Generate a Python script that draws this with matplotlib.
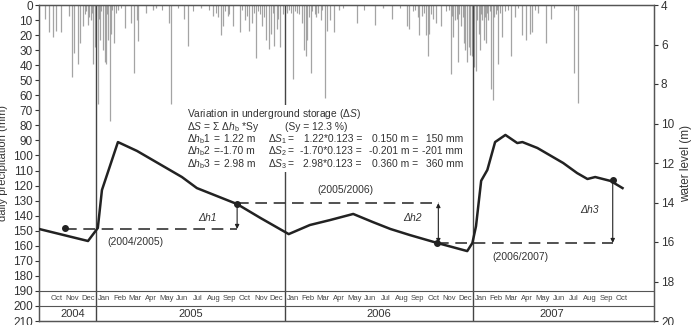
import matplotlib
matplotlib.use('Agg')
import matplotlib.pyplot as plt
import matplotlib.dates as mdates
import numpy as np
import pandas as pd
from matplotlib.patches import Rectangle

plt.rcParams['font.family'] = ['Liberation Sans', 'DejaVu Sans']
plt.rcParams['mathtext.fontset'] = 'custom'
plt.rcParams['mathtext.rm'] = 'Liberation Sans'
plt.rcParams['mathtext.it'] = 'Liberation Sans:italic'

# days are counted from 2004-09-01
origin = pd.Timestamp('2004-09-01')

# daily precipitation (mm)
rain_day = [22, 30, 38, 44, 53, 70, 75, 79, 86, 90, 96, 106, 111, 116, 119,
            125, 129, 135, 138, 141, 145, 148, 151, 156, 164, 177, 189, 195, 200, 203,
            218, 232, 238, 263, 266, 292, 300, 325, 348, 358, 364, 368, 377, 387, 400,
            410, 418, 423, 431, 444, 451, 457, 461, 467, 472, 478, 491, 504, 511, 520,
            525, 528, 531, 538, 548, 552, 557, 566, 570, 575, 582, 593, 628, 663, 677,
            695, 724, 729, 745, 748, 753, 761, 764, 767, 774, 780, 790, 809, 814, 818,
            824, 829, 834, 837, 840, 844, 847, 850, 855, 858, 863, 866, 870, 873, 878,
            882, 887, 890, 893, 901, 908, 926, 934, 948, 955, 962, 966, 979, 994, 1003,
            1048, 1056]
rain_mm = [9, 18, 21, 17, 18, 7, 48, 32, 39, 25, 14, 13, 10, 39, 28,
           66, 23, 30, 38, 39, 23, 77, 19, 25, 3, 15, 12, 45, 10, 24,
           5, 3, 2, 12, 66, 9, 27, 2, 7, 8, 20, 14, 7, 14, 18,
           10, 17, 12, 35, 14, 23, 29, 19, 27, 16, 28, 5, 49, 5, 12,
           30, 34, 23, 45, 8, 5, 10, 62, 17, 10, 18, 3, 12, 13, 2,
           9, 14, 16, 8, 20, 7, 20, 34, 19, 9, 12, 14, 46, 21, 10,
           38, 14, 25, 30, 38, 28, 33, 34, 41, 44, 19, 30, 10, 23, 25,
           10, 56, 63, 8, 39, 21, 34, 8, 20, 23, 19, 18, 5, 25, 9,
           45, 65]
# light rain days
drizzle_day = [100, 102, 108, 113, 122, 127, 132, 143, 153, 160, 170, 250, 280, 310,
               340, 355, 372, 380, 405, 415, 427, 436, 440, 448, 464, 475, 484, 488,
               495, 500, 508, 515, 534, 541, 545, 560, 600, 640, 710, 735, 740, 757,
               770, 800, 805, 811, 821, 826, 832, 852, 860, 868, 876, 880, 885, 896,
               898, 905, 915, 920, 940, 972, 1010, 1052]
drizzle_mm = [6, 4, 8, 5, 7, 9, 4, 6, 3, 5, 2, 3, 2, 4,
              3, 5, 4, 6, 3, 7, 5, 4, 6, 8, 5, 9, 6, 4,
              3, 5, 4, 6, 8, 4, 6, 3, 2, 3, 2, 4, 3, 5,
              6, 4, 3, 7, 9, 6, 8, 12, 10, 6, 8, 5, 4, 6,
              3, 5, 4, 3, 2, 3, 2, 3]

# water level below surface (m)
level_day = [11, 106, 125, 133, 164, 201, 288, 317, 395, 440, 495, 536, 575, 620,
             658, 692, 730, 783, 841, 851, 858, 868, 880, 895, 915, 938, 948, 977,
             1027, 1054, 1074, 1089, 1119, 1142]
level_m = [15.34, 15.95, 15.29, 13.37, 10.94, 11.39, 12.71, 13.27, 14.08, 14.78, 15.6,
           15.14, 14.89, 14.58, 14.99, 15.34, 15.65, 16.05, 16.46, 16.05, 15.2, 12.9,
           12.35, 10.94, 10.58, 10.99, 10.94, 11.24, 12.0, 12.51, 12.81, 12.71, 12.91,
           13.27]

# reference points and hydrological-year levels
dot_day = [61, 395, 783, 1123]
dot_m = [15.29, 14.08, 16.05, 12.86]
ref_start = [61, 395, 783]
ref_end = [395, 787, 1123]
ref_m = [15.34, 14.03, 16.05]
ref_names = ['(2004/2005)', '(2005/2006)', '(2006/2007)']
dh_names = ['Δh1', 'Δh2', 'Δh3']

x0 = mdates.date2num(origin)
W, H = 691, 325


def fig_xy(px, py):
    return px / W, 1 - py / H


fig = plt.figure(figsize=(W / 100, H / 100), dpi=100)
ax = fig.add_axes([39 / W, 4 / H, 615 / W, 316 / H])
ax2 = ax.twinx()

ax.set_xlim(mdates.date2num(pd.Timestamp('2004-09-12')),
            mdates.date2num(pd.Timestamp('2007-12-18')))
ax.set_ylim(210, 0)
ax.set_yticks(range(0, 211, 10))
ax.set_xticks([])
ax2.set_ylim(20, 4)
ax2.set_yticks(range(4, 21, 2))

# precipitation bars
ax.vlines(x0 + np.array(drizzle_day), 0, drizzle_mm, color='#8a8a8a', lw=0.8, alpha=0.8)
ax.vlines(x0 + np.array(rain_day), 0, rain_mm, color='#9a9a9a', lw=0.9, alpha=0.9)

# year separators and month/year band
years = [2005, 2006, 2007]
for y in years:
    ax.axvline(mdates.date2num(pd.Timestamp(f'{y}-01-01')), color='#444444', lw=1.0)
ax.axhline(190, color='#555555', lw=0.8)
ax.axhline(200, color='#555555', lw=0.8)

months = pd.date_range('2004-10-01', '2007-10-01', freq='MS')
for m in months:
    mid = mdates.date2num(m) + m.days_in_month / 2
    ax.text(mid, 195.3, m.strftime('%b'), ha='center', va='center',
            fontsize=5.5, color='#444444')

year_spans = [('2004', '2004-10-01', '2005-01-01'), ('2005', '2005-01-01', '2006-01-01'),
              ('2006', '2006-01-01', '2007-01-01'), ('2007', '2007-01-01', '2007-11-01')]
for name, a, b in year_spans:
    mid = (mdates.date2num(pd.Timestamp(a)) + mdates.date2num(pd.Timestamp(b))) / 2
    ax.text(mid, 205.3, name, ha='center', va='center', fontsize=8, color='#333333')

# water level
ax2.plot(x0 + np.array(level_day), level_m, color='#222222', lw=1.8, zorder=3)
for a, b, lv in zip(ref_start, ref_end, ref_m):
    ax2.plot([x0 + a, x0 + b], [lv, lv], color='#333333', lw=1.2, dashes=(7, 4))
ax2.plot(x0 + np.array(dot_day), dot_m, 'o', color='#222222', ms=4, zorder=4)

# change arrows
arrow_x = [395, 785, 1123]
arrow_top = [14.08, 14.03, 12.86]
arrow_bot = [15.34, 16.05, 16.05]
styles = ['-|>', '<|-|>', '-|>']
for xx, t, b, st in zip(arrow_x, arrow_top, arrow_bot, styles):
    ax2.annotate('', xy=(x0 + xx, b), xytext=(x0 + xx, t),
                 arrowprops=dict(arrowstyle=st, color='#222222', lw=0.8,
                                 mutation_scale=6, shrinkA=0, shrinkB=0))

dh_pos = [(207, 218), (412, 218), (589, 210)]
for name, (px, py) in zip(dh_names, dh_pos):
    fx, fy = fig_xy(px, py)
    fig.text(fx, fy, name, ha='center', va='center', fontsize=7.5,
             style='italic', color='#333333')

ref_pos = [(135, 242), (345, 190), (520, 257)]
for name, (px, py) in zip(ref_names, ref_pos):
    fx, fy = fig_xy(px, py)
    fig.text(fx, fy, name, ha='center', va='center', fontsize=7.5, color='#333333')

# storage text block
ax2.add_patch(Rectangle(fig_xy(182, 172), 286 / W, 67 / H, transform=fig.transFigure,
                        facecolor='white', edgecolor='none', zorder=5))
fs = 7.4
tc = '#333333'
rows = [114, 126.5, 139, 151.5, 164]


def put(px, py, s, ha='left'):
    fx, fy = fig_xy(px, py)
    fig.text(fx, fy, s, ha=ha, va='center', fontsize=fs, color=tc, zorder=6)


put(187, rows[0], r'Variation in underground storage ($\mathit{\Delta S}$)')
put(187, rows[1], r'$\mathit{\Delta S}$ = Σ $\mathit{\Delta h}_\mathrm{b}$ *Sy')
put(285, rows[1], '(Sy = 12.3 %)')
dh_vals = ['1.22', '-1.70', '2.98']
ds_m = ['0.150', '-0.201', '0.360']
ds_mm = ['150', '-201', '360']
for i in range(3):
    yy = rows[2 + i]
    put(187, yy, r'$\mathit{\Delta h}_\mathrm{b}$' + f'{i + 1}')
    put(213, yy, '=')
    put(255, yy, f'{dh_vals[i]} m', ha='right')
    put(268, yy, r'$\mathit{\Delta S}_{%d}$' % (i + 1))
    put(288, yy, '=')
    put(362, yy, f'{dh_vals[i]}*0.123 =', ha='right')
    put(418, yy, f'{ds_m[i]} m =', ha='right')
    put(463, yy, f'{ds_mm[i]} mm', ha='right')

# axes styling
for a in (ax, ax2):
    for s in a.spines.values():
        s.set_color('#555555')
        s.set_linewidth(0.9)
ax.tick_params(axis='y', labelsize=8.5, colors='#333333', length=3, width=0.8, pad=1.5)
ax2.tick_params(axis='y', labelsize=8.5, colors='#333333', length=3, width=0.8, pad=2)
ax.set_ylabel('daily precipitation (mm)', fontsize=8, color='#333333')
ax.yaxis.set_label_coords(-0.0496, 0.5)
ax2.set_ylabel('water level (m)', fontsize=8.5, color='#333333')
ax2.yaxis.set_label_coords(1.043, 0.5)

fig.savefig('out.png', dpi=100)
